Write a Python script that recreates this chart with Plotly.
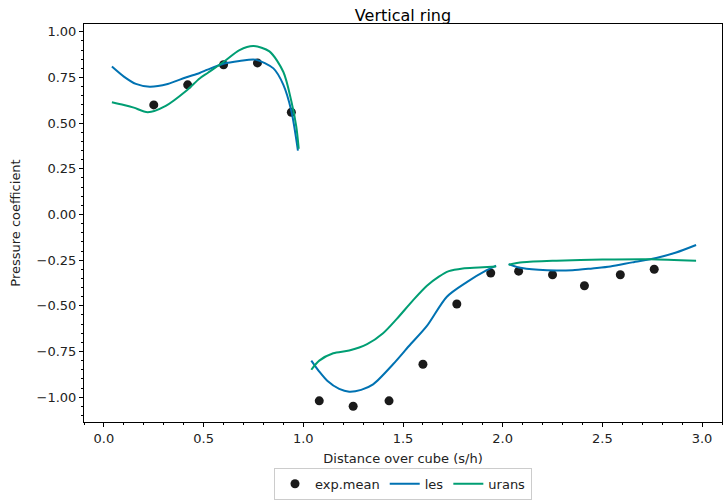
import plotly.graph_objects as go

# Experimental mean pressure coefficient along the vertical ring
exp_x = [0.25, 0.42, 0.60, 0.77, 0.94,
         1.08, 1.25, 1.43, 1.60, 1.77, 1.94,
         2.08, 2.25, 2.41, 2.59, 2.76]
exp_y = [0.60, 0.71, 0.82, 0.83, 0.56,
         -1.02, -1.05, -1.02, -0.82, -0.49, -0.32,
         -0.31, -0.33, -0.39, -0.33, -0.30]

# LES profile, three faces (front, top, back)
les_x1 = [0.04, 0.10, 0.16, 0.23, 0.32, 0.41, 0.48, 0.52, 0.60, 0.68, 0.76, 0.85, 0.90, 0.94, 0.973]
les_y1 = [0.81, 0.755, 0.715, 0.70, 0.715, 0.75, 0.775, 0.793, 0.825, 0.84, 0.848, 0.80, 0.71, 0.567, 0.35]
les_x2 = [1.04, 1.08, 1.12, 1.18, 1.23, 1.29, 1.35, 1.45, 1.53, 1.62, 1.72, 1.82, 1.92, 1.967]
les_y2 = [-0.80, -0.86, -0.91, -0.955, -0.97, -0.96, -0.93, -0.82, -0.72, -0.61, -0.45, -0.37, -0.305, -0.28]
les_x3 = [2.03, 2.08, 2.18, 2.27, 2.35, 2.45, 2.54, 2.65, 2.77, 2.87, 2.97]
les_y3 = [-0.272, -0.29, -0.303, -0.307, -0.305, -0.295, -0.285, -0.262, -0.238, -0.208, -0.167]

# URANS profile, three faces
urans_x1 = [0.04, 0.10, 0.15, 0.22, 0.31, 0.41, 0.48, 0.52, 0.60, 0.68, 0.75, 0.83, 0.90, 0.94, 0.965, 0.977]
urans_y1 = [0.615, 0.60, 0.585, 0.56, 0.595, 0.675, 0.745, 0.775, 0.835, 0.90, 0.922, 0.893, 0.78, 0.62, 0.48, 0.36]
urans_x2 = [1.04, 1.08, 1.15, 1.23, 1.32, 1.40, 1.47, 1.55, 1.62, 1.68, 1.73, 1.80, 1.88, 1.967]
urans_y2 = [-0.85, -0.80, -0.76, -0.745, -0.71, -0.65, -0.57, -0.47, -0.39, -0.34, -0.31, -0.295, -0.29, -0.284]
urans_x3 = [2.03, 2.10, 2.27, 2.50, 2.74, 2.97]
urans_y3 = [-0.275, -0.262, -0.253, -0.247, -0.245, -0.253]


def joined(*parts):
    out = []
    for i, p in enumerate(parts):
        if i:
            out.append(None)
        out.extend(p)
    return out


FONT = "DejaVu Sans"
BLUE = "#0072B2"
GREEN = "#009E73"
TXT = "#222222"

fig = go.Figure()
fig.add_trace(go.Scatter(
    x=exp_x, y=exp_y, mode="markers", name="exp.mean",
    marker=dict(color="#1a1a1a", size=9, line=dict(width=0)),
))
fig.add_trace(go.Scatter(
    x=joined(les_x1, les_x2, les_x3), y=joined(les_y1, les_y2, les_y3),
    mode="lines", name="les", line=dict(color=BLUE, width=2, shape="spline", smoothing=0.8),
    connectgaps=False,
))
fig.add_trace(go.Scatter(
    x=joined(urans_x1, urans_x2, urans_x3), y=joined(urans_y1, urans_y2, urans_y3),
    mode="lines", name="urans", line=dict(color=GREEN, width=2, shape="spline", smoothing=0.8),
    connectgaps=False,
))

axis_common = dict(
    showline=True, linecolor="black", linewidth=1, mirror=True,
    showgrid=False, zeroline=False,
    ticks="outside", ticklen=4, tickwidth=1, tickcolor="black",
    tickfont=dict(family=FONT, size=13, color=TXT),
)

fig.update_xaxes(
    range=[-0.1, 3.1], tickvals=[0, 0.5, 1.0, 1.5, 2.0, 2.5, 3.0],
    ticktext=["0.0", "0.5", "1.0", "1.5", "2.0", "2.5", "3.0"],
    minor=dict(dtick=0.1, tick0=0, ticks="outside", ticklen=2, tickcolor="black"),
    title=dict(text="Distance over cube (s/h)", font=dict(family=FONT, size=13, color=TXT), standoff=9),
    **axis_common,
)
fig.update_yaxes(
    range=[-1.136, 1.043], tickvals=[-1.0, -0.75, -0.5, -0.25, 0, 0.25, 0.5, 0.75, 1.0],
    ticktext=["\u22121.00", "\u22120.75", "\u22120.50", "\u22120.25", "0.00", "0.25", "0.50", "0.75", "1.00"],
    minor=dict(dtick=0.05, tick0=0, ticks="outside", ticklen=2, tickcolor="black"),
    title=dict(text="Pressure coefficient", font=dict(family=FONT, size=13, color=TXT), standoff=13),
    **axis_common,
)

fig.update_layout(
    width=723, height=501,
    margin=dict(l=84, r=1, t=24, b=76),
    paper_bgcolor="white", plot_bgcolor="white",
    font=dict(family=FONT, size=13, color=TXT),
    title=dict(text="Vertical ring", x=0.5, xref="paper", xanchor="center",
               y=1 - 15 / 501, yref="container", yanchor="middle",
               font=dict(family=FONT, size=16, color="black")),
    showlegend=True,
    legend=dict(orientation="h", x=0.5, xanchor="center", y=-0.115, yanchor="top",
                bordercolor="#cccccc", borderwidth=1, bgcolor="white",
                font=dict(family=FONT, size=13, color=TXT)),
)

fig.write_html("out.html")
